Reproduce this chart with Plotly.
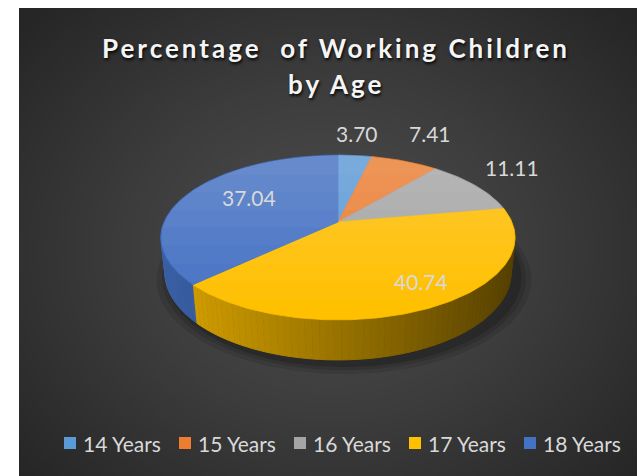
import numpy as np
import plotly.graph_objects as go

# ---- data ----
categories = ["14 Years", "15 Years", "16 Years", "17 Years", "18 Years"]
values = [3.70, 7.41, 11.11, 40.74, 37.04]
colors = ["#5B9BD5", "#ED7D31", "#A5A5A5", "#FFC000", "#4472C4"]
title_lines = ["Percentage\u00a0 of Working Children", "by Age"]

W, H = 639, 476

# ---- 3-D pie projection (disc of radius 1 seen at an angle, with perspective) ----
CX, CY = 338.0, 222.0          # screen position of the pie's centre
SCALE = 173.9
TILT = np.radians(27.2)
PERSP = 0.1879                 # cos(tilt) / camera distance
THICK = 0.23                   # disc thickness (radius units)
DIST = np.cos(TILT) / PERSP


def project(phi, r=1.0, h=0.0):
    u = r * np.sin(phi)
    v = r * np.cos(phi)
    z = 1 + (v * np.cos(TILT) - h * np.sin(TILT)) / DIST
    x = CX + SCALE * u / z
    y = CY - SCALE * (v * np.sin(TILT) + h * np.cos(TILT)) / z
    return x, y


def shade(hexcol, f):
    r, g, b = (int(hexcol[i:i + 2], 16) for i in (1, 3, 5))
    if f <= 1:
        r, g, b = (int(c * f) for c in (r, g, b))
    else:
        r, g, b = (int(c + (255 - c) * (f - 1)) for c in (r, g, b))
    return f"rgb({r},{g},{b})"


fig = go.Figure()

# ---- dark radial-gradient chart area ----
gx = np.arange(19, W + 1, 3.0)
gy = np.arange(8, H + 1, 3.0)
cxm, cym = 0.5 * (gx[:-1] + gx[1:]), 0.5 * (gy[:-1] + gy[1:])
XX, YY = np.meshgrid(cxm, cym)
dist = np.sqrt(((XX - 330) / 340) ** 2 + ((YY - 250) / 280) ** 2)
fig.add_trace(go.Heatmap(
    x=gx, y=gy, z=np.clip(dist, 0, 1.2), zmin=0, zmax=1.2,
    colorscale=[[0, "#4e4e4e"], [0.5, "#3c3c3c"], [1, "#262626"]],
    showscale=False, hoverinfo="skip"))

# ---- slice angles (clockwise from 12 o'clock) ----
total = sum(values)
bounds = np.concatenate([[0], np.cumsum(values) / total * 2 * np.pi])

# soft shadow beneath the disc
for grow, op in [(1.08, 0.10), (1.05, 0.12), (1.025, 0.16)]:
    ph = np.linspace(0, 2 * np.pi, 200)
    sx, sy = project(ph, grow, -THICK)
    fig.add_trace(go.Scatter(x=sx + 6, y=sy + 4, mode="lines", fill="toself",
                             fillcolor=f"rgba(0,0,0,{op})", line=dict(width=0),
                             hoverinfo="skip", showlegend=False))

# ---- side wall (front half only), shaded from left to right ----
lo, hi = np.pi / 2, 3 * np.pi / 2
step = np.radians(2.0)
for i, col in enumerate(colors):
    a0, a1 = max(bounds[i], lo), min(bounds[i + 1], hi)
    if a1 <= a0:
        continue
    n = max(1, int(np.ceil((a1 - a0) / step)))
    edges = np.linspace(a0, a1, n + 1)
    for s0, s1 in zip(edges[:-1], edges[1:]):
        ph = np.linspace(s0, s1, 4)
        tx, ty = project(ph, 1, 0)
        bx, by = project(ph[::-1], 1, -THICK)
        px = np.concatenate([tx, bx])
        py = np.concatenate([ty, by])
        xm = px.mean()
        f = 0.86 - 0.52 * (xm - 160) / 355
        c = shade(col, f)
        fig.add_trace(go.Scatter(x=px, y=py, mode="lines", fill="toself",
                                 fillcolor=c, line=dict(color=c, width=1),
                                 hoverinfo="skip", showlegend=False))

# ---- top face ----
for i, col in enumerate(colors):
    ph = np.linspace(bounds[i], bounds[i + 1], max(8, int(values[i] * 3)))
    ax, ay = project(ph, 1, 0)
    px = np.concatenate([[CX], ax, [CX]])
    py = np.concatenate([[CY], ay, [CY]])
    fig.add_trace(go.Scatter(x=px, y=py, mode="lines", fill="toself",
                             fillcolor=col, line=dict(color=col, width=0.8),
                             name=categories[i], hoverinfo="skip", showlegend=False))

# soft light on the far part of the top face
rim_phi = np.linspace(-np.pi, np.pi, 361)
rim_x, rim_y = project(rim_phi, 0.997, 0)
for yk in np.linspace(175, 300, 8):
    m = rim_y < yk
    fig.add_trace(go.Scatter(x=rim_x[m], y=rim_y[m], mode="lines", fill="toself",
                             fillcolor="rgba(255,255,255,0.028)", line=dict(width=0),
                             hoverinfo="skip", showlegend=False))

# ---- data labels ----
label_pos = [(357, 133), (430, 133), (512, 167), (421, 281), (249, 197)]
annotations = []
for v, (lx, ly) in zip(values, label_pos):
    annotations.append(dict(x=lx, y=ly, xref="x", yref="y", text=f"{v:.2f}",
                            showarrow=False, xanchor="center", yanchor="middle",
                            font=dict(family="Lato", size=21, color="#d9d9d9")))

# ---- title ----
title_font = dict(family="Lato", size=26, color="#f5f5f5", weight="bold",
                  shadow="1px 2px 3px rgba(0,0,0,0.9)")
for line, ty in zip(title_lines, [48, 84]):
    annotations.append(dict(x=336, y=ty, xref="x", yref="y",
                            text=f"<span style='letter-spacing:3px'>{line}</span>",
                            showarrow=False, xanchor="center", yanchor="middle",
                            font=title_font))

# ---- legend ----
shapes = []
for i, (name, col) in enumerate(zip(categories, colors)):
    x0 = 64 + i * 115
    shapes.append(dict(type="rect", xref="x", yref="y", x0=x0, x1=x0 + 12,
                       y0=437, y1=449, fillcolor=col, line=dict(width=0)))
    annotations.append(dict(x=x0 + 17, y=443, xref="x", yref="y", text=name,
                            showarrow=False, xanchor="left", yanchor="middle",
                            font=dict(family="Lato", size=21, color="#d9d9d9")))

fig.update_layout(
    width=W, height=H, margin=dict(l=0, r=0, t=0, b=0),
    paper_bgcolor="white", plot_bgcolor="white",
    xaxis=dict(range=[0, W], visible=False, fixedrange=True),
    yaxis=dict(range=[H, 0], visible=False, fixedrange=True),
    annotations=annotations, shapes=shapes, showlegend=False,
)

fig.write_html("out.html")
